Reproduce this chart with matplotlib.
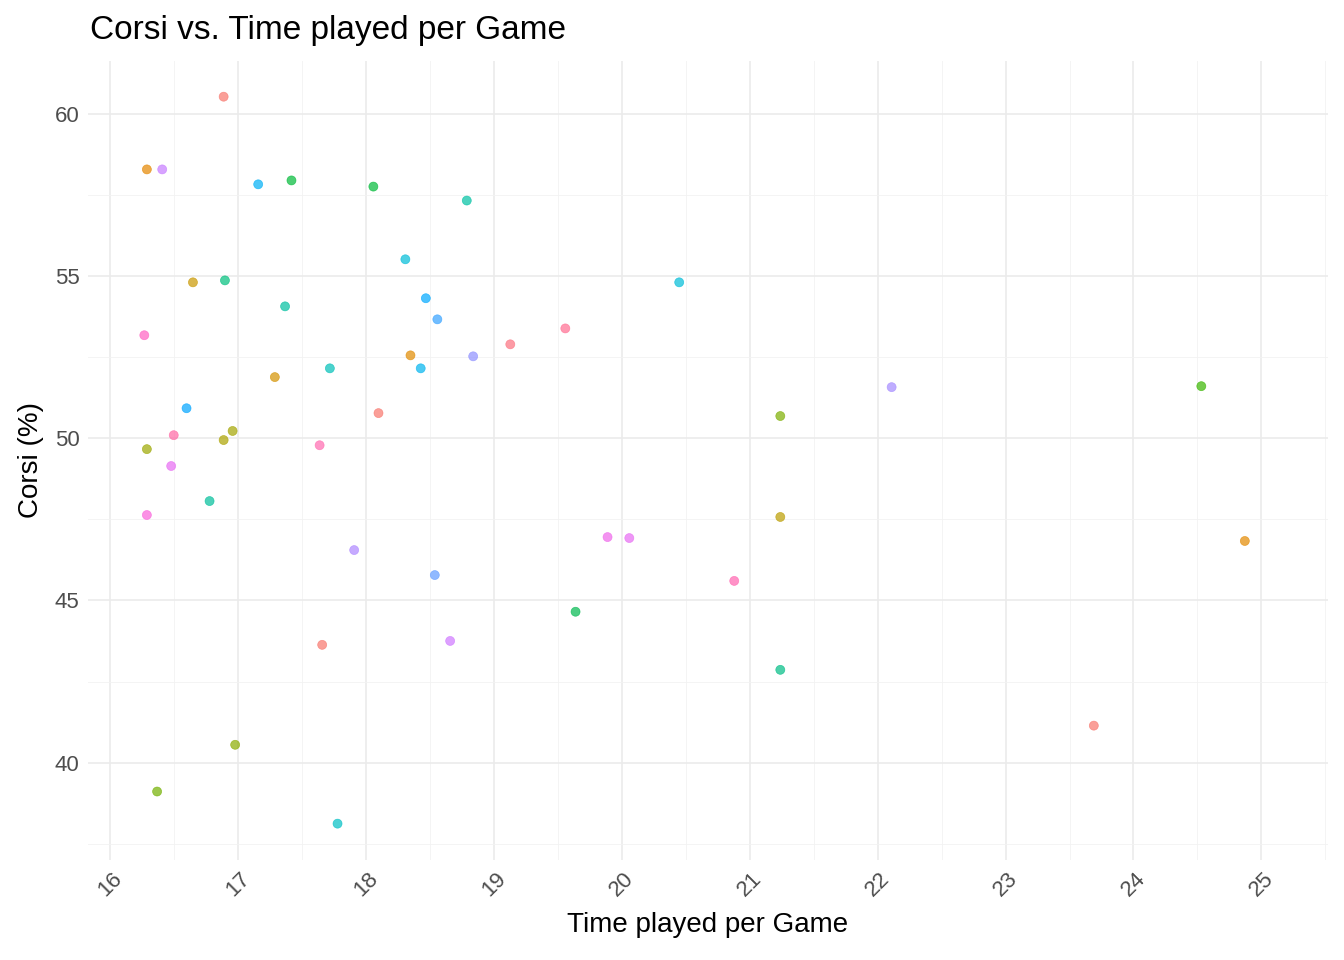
import matplotlib
matplotlib.use("Agg")
import matplotlib.pyplot as plt
from matplotlib.ticker import MultipleLocator

plt.rcParams['font.family'] = ['Liberation Sans', 'DejaVu Sans']

time_played = [16.89,16.29,16.41,17.16,17.42,18.06,18.79,18.31,16.65,16.90,20.45,17.37,18.47,18.56,19.56,16.27,19.13,18.35,18.84,17.72,18.43,17.29,22.11,24.53,16.60,18.10,21.24,16.50,16.96,16.89,16.29,17.64,16.48,16.78,16.29,21.24,19.89,20.06,24.87,17.91,18.54,20.88,19.64,17.66,18.66,21.24,23.69,16.98,16.37,17.78]
corsi = [60.52,58.28,58.28,57.82,57.94,57.75,57.32,55.51,54.80,54.86,54.80,54.06,54.31,53.66,53.38,53.17,52.89,52.55,52.52,52.15,52.15,51.88,51.57,51.60,50.92,50.77,50.68,50.09,50.22,49.94,49.66,49.78,49.14,48.06,47.63,47.57,46.95,46.92,46.83,46.55,45.78,45.60,44.65,43.63,43.75,42.86,41.14,40.55,39.11,38.12]
colors = ["#F8766D","#E58700","#C77CFF","#00B0F6","#00BA38","#00BA38","#00C1A3","#00BCD8","#C99800","#00BF7D","#00BCD8","#00BFA0","#00A9FF","#35A2FF","#FF6C91","#FF61C3","#FC717F","#E18A00","#8F91FF","#00C0B8","#00B4EF","#D49200","#A58AFF","#39B600","#00A5FF","#F8766D","#7CAE00","#FF67A4","#A3A500","#ABA300","#9CA700","#FF6AB0","#E76BF3","#00BE9B","#FA62DB","#BB9D00","#EF67EB","#E76BF3","#E38900","#AE87FF","#619CFF","#FF64B0","#00B94F","#F8766D","#CF78FF","#00BD85","#F8766D","#8AAB00","#72B000","#00BFC4"]

fig = plt.figure(figsize=(13.44, 9.6), dpi=100)
ax = fig.add_axes([88/1344, 1-860/960, (1328-88)/1344, (860-61)/960])
ax.scatter(time_played, corsi, c=colors, s=42, alpha=0.7, edgecolors=colors, linewidths=0.5, zorder=3)
ax.set_xlim(15.83, 25.52)
ax.set_ylim(37.0, 61.62)
ax.xaxis.set_major_locator(MultipleLocator(1))
ax.xaxis.set_minor_locator(MultipleLocator(0.5))
ax.yaxis.set_major_locator(MultipleLocator(5))
ax.yaxis.set_minor_locator(MultipleLocator(2.5))
ax.grid(which="major", color="#EBEBEB", linewidth=1.2)
ax.grid(which="minor", color="#F2F2F2", linewidth=0.6)
for s in ax.spines.values():
    s.set_visible(False)
ax.tick_params(which="both", length=0, labelsize=16, labelcolor="#4D4D4D", pad=6)
plt.setp(ax.get_xticklabels(), rotation=45)
ax.set_xlabel("Time played per Game", fontsize=20, labelpad=8)
ax.set_ylabel("Corsi (%)", fontsize=20, labelpad=8)
fig.text(90/1344, 1-30/960, "Corsi vs. Time played per Game", fontsize=24, va="center", ha="left")
fig.savefig("out.png", dpi=100)
